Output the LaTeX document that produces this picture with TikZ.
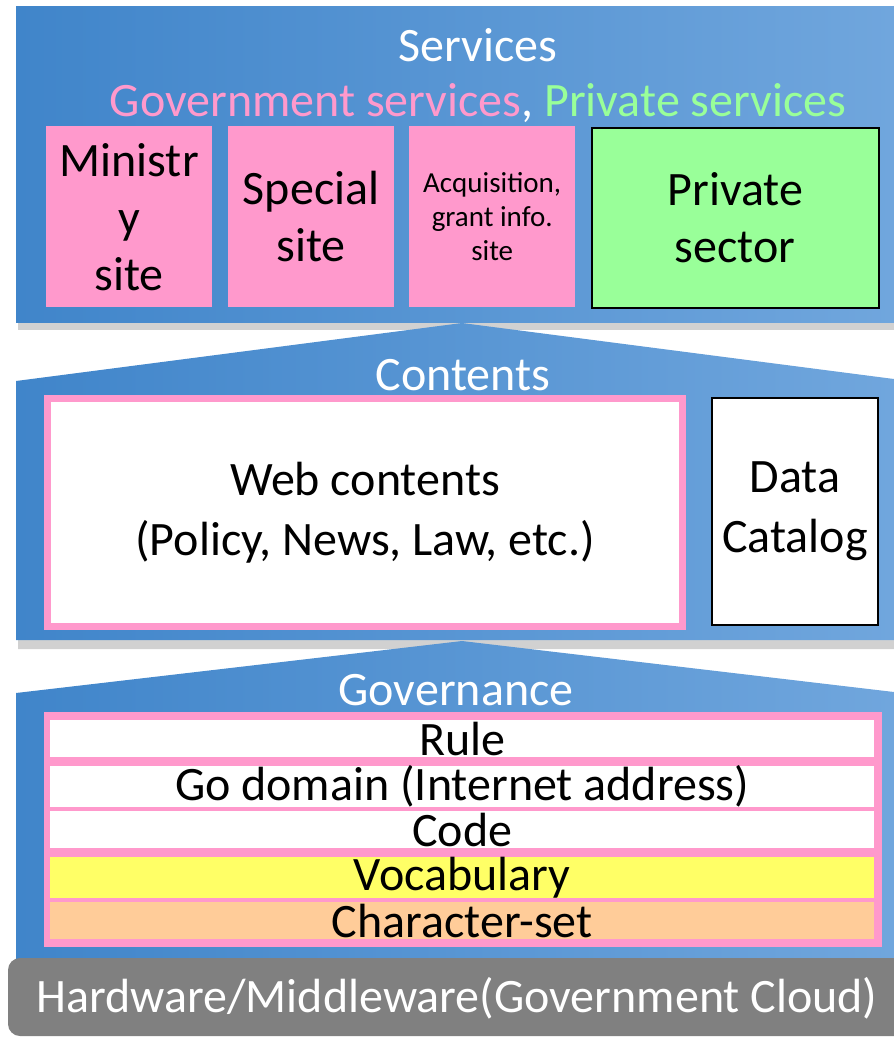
\documentclass[tikz,border=0pt]{standalone}
\usepackage{fontspec}
\setmainfont{Carlito}

\definecolor{panelL}{RGB}{64,133,202}
\definecolor{panelR}{RGB}{112,166,221}
\definecolor{govpink}{RGB}{255,153,204}
\definecolor{privgreen}{RGB}{153,255,153}
\definecolor{vocabyellow}{RGB}{255,255,102}
\definecolor{charpeach}{RGB}{255,204,153}
\definecolor{cloudgray}{RGB}{128,128,128}

\begin{document}
\begin{tikzpicture}[x=1pt,y=-1pt,
  panel/.style={left color=panelL,right color=panelR},
  shadowfill/.style={fill=black,opacity=0.18},
  title/.style={text=white,font=\fontsize{48}{48}\selectfont,inner sep=0pt},
  sitebox/.style={fill=govpink,minimum width=166pt,minimum height=181pt,inner sep=0pt,
    anchor=north west,align=center,font=\fontsize{48}{57}\selectfont},
  rowbox/.style={minimum width=824pt,minimum height=37pt,inner sep=0pt,
    anchor=north west,font=\fontsize{48}{48}\selectfont}]
  \useasboundingbox (0,0) rectangle (894,1037);

  % services layer
  \fill[shadowfill] (18,10) rectangle (894,330);
  \shade[panel] (16,6) rectangle (894,322);
  \node[title] (services) at (478,45) {Services};
  \node[title] (servkinds) at (478,103)
    {\color{govpink}Government services\color{white}, \color{privgreen}Private services};
  \node[sitebox] (ministry) at (46,126) {Ministr\\y\\site};
  \node[sitebox] (special) at (228,126) {Special\\site};
  \node[sitebox,font=\fontsize{29}{34}\selectfont] (acquisition) at (409,126)
    {Acquisition,\\grant info.\\site};
  \node[sitebox,fill=privgreen,draw=black,line width=1.5pt,minimum width=287pt,
    minimum height=180pt] (private) at (591,127) {Private\\sector};

  % contents layer
  \fill[shadowfill] (18,649) -- (18,385) -- (462,327) -- (894,383) -- (894,649) -- cycle;
  \shade[panel] (16,640) -- (16,381) -- (462,323) -- (894,379) -- (894,640) -- cycle;
  \node[title] (contents) at (463,375) {Contents};
  \node[draw=govpink,line width=7pt,fill=white,minimum width=635pt,minimum height=228pt,
    align=center,font=\fontsize{48}{60}\selectfont] (web) at (365,512.5)
    {Web contents\\(Policy, News, Law, etc.)};
  \node[draw=black,line width=1.5pt,fill=white,minimum width=166pt,minimum height=227pt,
    align=center,font=\fontsize{48}{60}\selectfont] (catalog) at (795,511.5)
    {Data\\Catalog};

  % governance layer
  \shade[panel] (16,962) -- (16,693) -- (462,641) -- (894,692) -- (894,962) -- cycle;
  \node[title] (governance) at (456,690) {Governance};
  \fill[govpink] (44,712) rectangle (882,947);
  \foreach \i/\lab/\col in {0/Rule/white,1/Go domain (Internet address)/white,
      2/Code/white,3/Vocabulary/vocabyellow,4/Character-set/charpeach}
    \node[rowbox,fill=\col] (row\i) at (50,720+45.5*\i) {\lab};

  % infrastructure
  \fill[cloudgray,rounded corners=12pt] (8,958) rectangle (910,1036);
  \node[title] (cloud) at (457,998) {Hardware/Middleware(Government Cloud)};
\end{tikzpicture}
\end{document}
